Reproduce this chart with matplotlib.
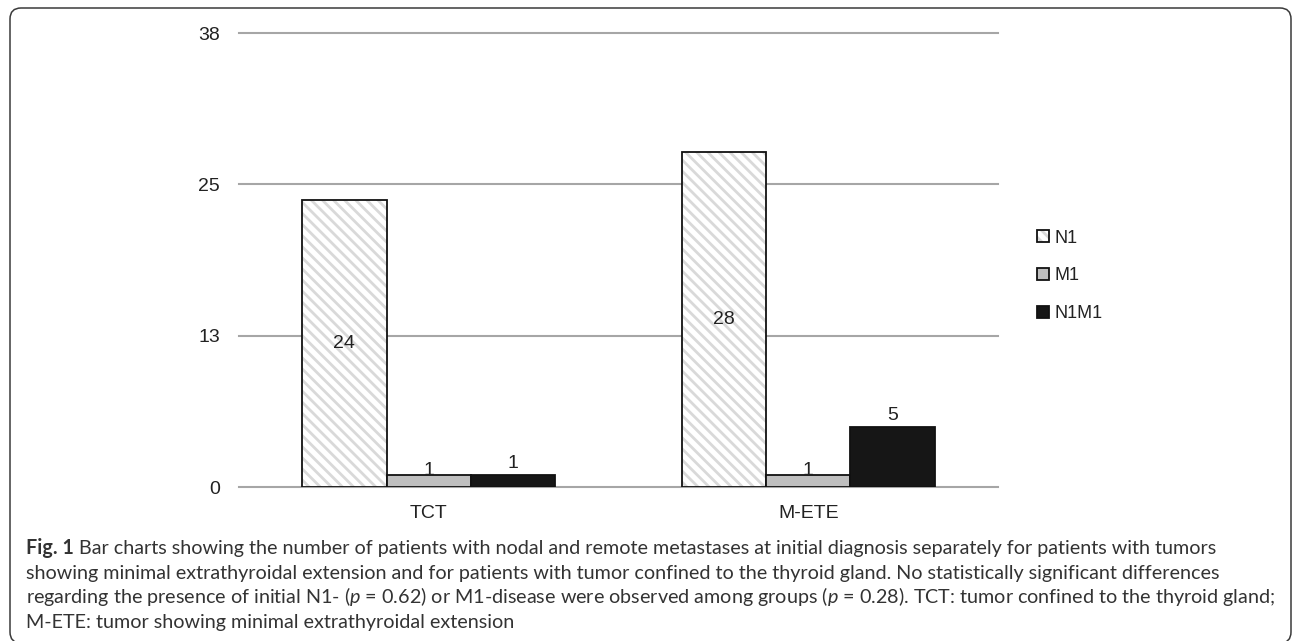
import matplotlib
matplotlib.use('Agg')
import matplotlib.pyplot as plt
import matplotlib.colors as mcolors
import numpy as np
from matplotlib.patches import FancyBboxPatch
from matplotlib.transforms import IdentityTransform

# ---------------- data ----------------
categories = ['TCT', 'M-ETE']
series_names = ['N1', 'M1', 'N1M1']
n1_values = [24, 28]
m1_values = [1, 1]
n1m1_values = [1, 5]
ytick_values = [0, 38 / 3, 76 / 3, 38]
ytick_labels = ['0', '13', '25', '38']
y_max = 38

caption_bold = 'Fig. 1'
caption_lines = [
    'Bar charts showing the number of patients with nodal and remote metastases at initial diagnosis separately for patients with tumors',
    'showing minimal extrathyroidal extension and for patients with tumor confined to the thyroid gland. No statistically significant differences',
    'regarding the presence of initial N1- ($p$ = 0.62) or M1-disease were observed among groups ($p$ = 0.28). TCT: tumor confined to the thyroid gland;',
    'M-ETE: tumor showing minimal extrathyroidal extension',
]

# ---------------- style ----------------
plt.rcParams['font.family'] = ['Liberation Sans', 'DejaVu Sans']
plt.rcParams['hatch.linewidth'] = 2.0
plt.rcParams['mathtext.fontset'] = 'custom'
plt.rcParams['mathtext.it'] = 'Lato:italic'
plt.rcParams['mathtext.rm'] = 'Lato'

W, H = 1293, 641
fig = plt.figure(figsize=(W / 100, H / 100), dpi=100)
ax = fig.add_axes([239 / W, 1 - 487 / H, (998 - 239) / W, (487 - 33) / H])

x = np.arange(len(categories))
w = 1 / 4.5
edge = '#111111'

b1 = ax.bar(x - w, n1_values, w, facecolor='white', edgecolor=edge, linewidth=1.3,
            hatch='\\\\\\', zorder=2)
for p in b1:
    p._hatch_color = mcolors.to_rgba('#d9d9d9')
b2 = ax.bar(x, m1_values, w, facecolor='#bfbfbf', edgecolor=edge, linewidth=1.3, zorder=2)
b3 = ax.bar(x + w, n1m1_values, w, facecolor='#161616', edgecolor=edge, linewidth=1.3, zorder=2)

ax.set_xlim(-0.5, len(categories) - 0.5)
ax.set_ylim(0, y_max)
for t in ytick_values:
    ax.axhline(t, color='#a6a6a6', lw=1.5, zorder=0, clip_on=False)

ax.set_yticks(ytick_values, ytick_labels)
ax.set_xticks(x, categories)
ax.tick_params(axis='y', length=0, pad=13.5, labelsize=14, labelcolor='#222222')
ax.tick_params(axis='x', length=0, pad=13, labelsize=14, labelcolor='#222222')
for s in ax.spines.values():
    s.set_visible(False)

ax.bar_label(b1, label_type='center', fontsize=14, color='#222222')
ax.bar_label(b2, label_type='edge', padding=-2.5, fontsize=14, color='#222222')
ax.bar_label(b3, label_type='edge', padding=2, fontsize=14, color='#222222')

ax.legend(handles=[b1, b2, b3], labels=series_names, loc='center left',
          bbox_to_anchor=(1037 / W, 1 - 276 / H), bbox_transform=fig.transFigure,
          frameon=False, fontsize=13, handlelength=0.66, handleheight=0.66,
          handletextpad=0.3, labelspacing=1.15, borderpad=0, borderaxespad=0,
          labelcolor='#222222')

# ---------------- frame ----------------
frame = FancyBboxPatch((10, -2), 1281, 635, boxstyle='round,pad=0,rounding_size=11',
                       transform=IdentityTransform(), facecolor='none',
                       edgecolor='#3a3a3a', linewidth=1.1)
fig.patches.append(frame)

# ---------------- caption ----------------
renderer = fig.canvas.get_renderer()
cap_color = '#333333'
left_px = 26
baselines = [554, 578.7, 603.3, 628]
target_w = 1222 - 26


def make_text(xp, yp, s, size, bold=False):
    return fig.text(xp / W, 1 - yp / H, s, fontfamily='Lato', fontsize=size,
                    fontweight='bold' if bold else 'normal', va='baseline',
                    ha='left', color=cap_color)


def measure(size):
    tb = make_text(left_px, baselines[0], caption_bold, size, bold=True)
    tr = make_text(left_px, baselines[0], caption_lines[0], size)
    ta = make_text(left_px, baselines[0], 'a a', size)
    tc = make_text(left_px, baselines[0], 'aa', size)
    wb = tb.get_window_extent(renderer).width
    wr = tr.get_window_extent(renderer).width
    sp = ta.get_window_extent(renderer).width - tc.get_window_extent(renderer).width
    for t in (tb, tr, ta, tc):
        t.remove()
    return wb, wr, sp


size0 = 14
wb, wr, sp = measure(size0)
size = size0 * target_w / (wb + sp + wr)
wb, wr, sp = measure(size)

make_text(left_px, baselines[0], caption_bold, size, bold=True)
make_text(left_px + wb + sp, baselines[0], caption_lines[0], size)
for line, yb in zip(caption_lines[1:], baselines[1:]):
    make_text(left_px, yb, line, size)

fig.savefig('out.png', dpi=100)
